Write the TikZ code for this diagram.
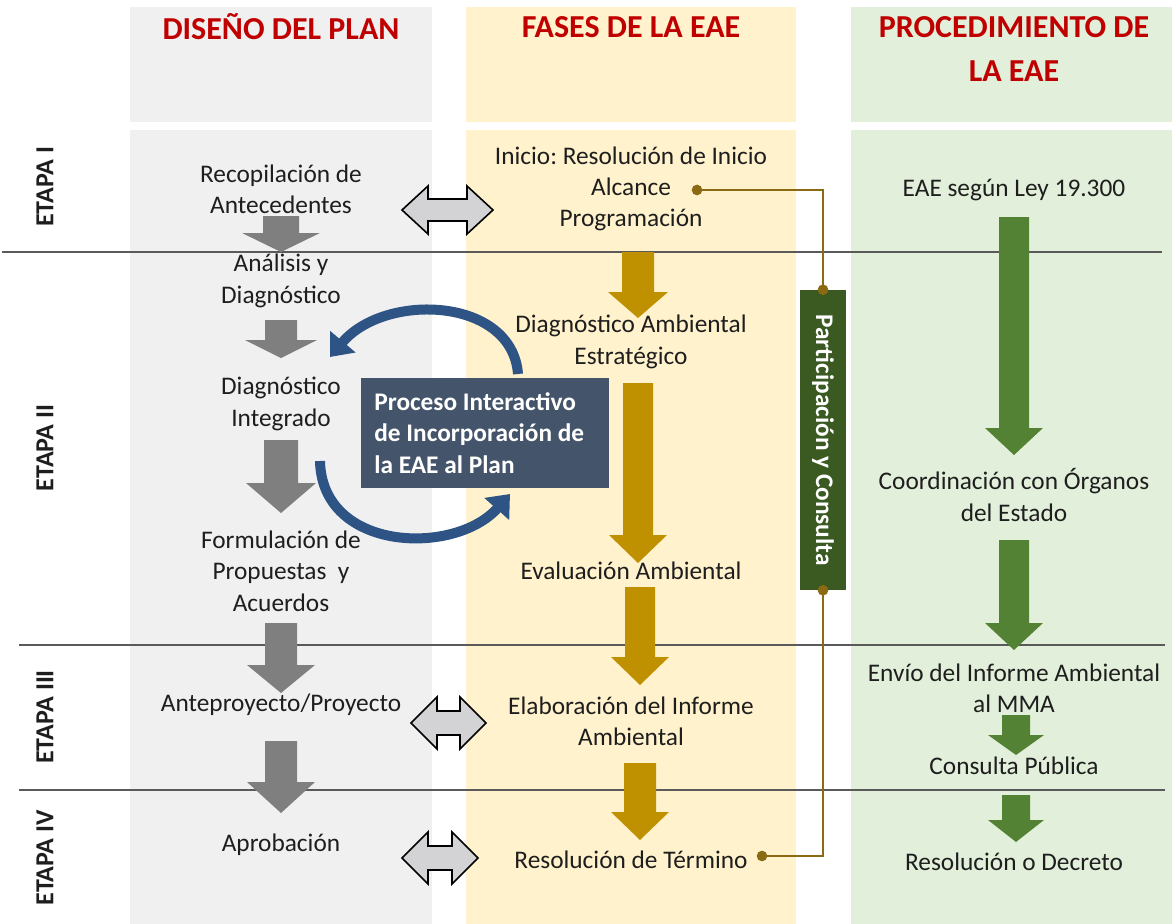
\documentclass[tikz,border=0pt]{standalone}
\usepackage{fontspec}
\setmainfont{Carlito}
\frenchspacing
\usetikzlibrary{arrows.meta}
\definecolor{bggray}{HTML}{F0F0F0}
\definecolor{bgyel}{HTML}{FFF2CC}
\definecolor{bggreen}{HTML}{E2EFDA}
\definecolor{hdred}{HTML}{C00000}
\definecolor{txt}{HTML}{1E1E1E}
\definecolor{arrgray}{HTML}{7F7F7F}
\definecolor{arrgold}{HTML}{BF9000}
\definecolor{arrgreen}{HTML}{548235}
\definecolor{bargreen}{HTML}{3A5A22}
\definecolor{connc}{HTML}{8B6A14}
\definecolor{slate}{HTML}{44546A}
\definecolor{curveblue}{HTML}{2E5486}
\definecolor{dblfill}{HTML}{D3D3D6}
\definecolor{sepline}{HTML}{5A5A5A}
\newcommand{\bdarrow}[7]{%
  \fill[#1] (#2-#6,#3) -- (#2+#6,#3) -- (#2+#6,#4) -- (#2+#7,#4) -- (#2,#5)
    -- (#2-#7,#4) -- (#2-#6,#4) -- cycle;}
% double arrow: xl, xr, yc, half height, shaft half height, head length
\newcommand{\dblarrow}[6]{%
  \filldraw[fill=dblfill,draw=black,line width=1.2pt,line join=miter]
    (#1,#3) -- (#1+#6,#3-#4) -- (#1+#6,#3-#5) -- (#2-#6,#3-#5) -- (#2-#6,#3-#4)
    -- (#2,#3) -- (#2-#6,#3+#4) -- (#2-#6,#3+#5) -- (#1+#6,#3+#5) -- (#1+#6,#3+#4) -- cycle;}
\tikzset{
  body/.style={text=txt,font=\fontsize{19}{23.5}\selectfont\frenchspacing,align=center,inner sep=0pt},
  head/.style={text=hdred,font=\fontsize{24}{33}\selectfont\bfseries,align=center,inner sep=0pt},
  etapa/.style={text=txt,font=\fontsize{19.5}{22}\selectfont\bfseries,rotate=90,inner sep=0pt},
  sep/.style={draw=sepline,line width=1.1pt},
  conn/.style={draw=connc,line width=1.5pt},
  dot/.style={circle,fill=connc,minimum size=8pt,inner sep=0pt},
  curvearr/.style={draw=curveblue,line width=7.5pt,-{Triangle[length=15pt,width=24pt]}},
}
\begin{document}
\begin{tikzpicture}[x=0.75pt,y=-0.75pt]
\useasboundingbox (0,0) rectangle (1172,924);
% backgrounds
\fill[bggray] (130,7) rectangle (432,122);
\fill[bggray] (130,130) rectangle (432,924);
\fill[bgyel] (466,7) rectangle (796,122);
\fill[bgyel] (466,130) rectangle (796,924);
\fill[bggreen] (851,7) rectangle (1172,122);
\fill[bggreen] (851,130) rectangle (1172,924);
% separators
\draw[sep] (2,252) -- (1162,252);
\draw[sep] (19,645) -- (1165,645);
\draw[sep] (19,790) -- (1165,790);
% headers
\node[head] (h1) at (281,27) {DISEÑO DEL PLAN};
\node[head] (h2) at (631,27) {FASES DE LA EAE};
\node[head] (h3) at (1014,49) {PROCEDIMIENTO DE\\LA EAE};
% etapas
\node[etapa] (e1) at (45,187) {ETAPA I};
\node[etapa] (e2) at (45,448) {ETAPA II};
\node[etapa] (e3) at (45,717) {ETAPA III};
\node[etapa] (e4) at (45,858) {ETAPA IV};
% gray arrows
\bdarrow{arrgray}{281}{216}{233}{252}{18}{39}
\bdarrow{arrgray}{281}{320}{340}{358}{16}{36}
\bdarrow{arrgray}{281}{440}{483}{513}{17}{35}
\bdarrow{arrgray}{281}{623}{665}{693}{16}{34}
\bdarrow{arrgray}{281}{741}{782}{813}{16}{34}
% gold arrows
\bdarrow{arrgold}{638}{252}{292}{318}{16}{30}
\bdarrow{arrgold}{638}{383}{535}{563}{15}{29}
\bdarrow{arrgold}{640}{587}{657}{685}{15}{29}
\bdarrow{arrgold}{640}{763}{812}{840}{16}{29}
% green arrows
\bdarrow{arrgreen}{1014}{217}{428}{455}{15}{29}
\bdarrow{arrgreen}{1014}{540}{623}{650}{15}{29}
\bdarrow{arrgreen}{1016}{715}{735}{755}{14}{28}
\bdarrow{arrgreen}{1016}{795}{820}{842}{14}{28}
% double arrows
\dblarrow{402}{493}{210}{24}{11}{26}
\dblarrow{411}{486}{723}{26}{12}{26}
\dblarrow{402}{478}{858}{26}{12}{26}
% left column texts
\node[body] (rec) at (281,189) {Recopilación de\\Antecedentes};
\node[body] (ana) at (281,281) {Análisis y\\Diagnóstico};
\node[body] (dint) at (281,404) {Diagnóstico\\Integrado};
\node[body] (form) at (281,571) {Formulación de\\Propuestas\ \ y\\Acuerdos};
\node[body] (ante) at (281,705) {Anteproyecto/Proyecto};
\node[body] (apro) at (281,845) {Aprobación};
% middle column texts
\node[body] (ini) at (631,189) {Inicio: Resolución de Inicio\\Alcance\\Programación};
\node[body] (dae) at (631,342) {Diagnóstico Ambiental\\Estratégico};
\node[body] (eva) at (631,571) {Evaluación Ambiental};
\node[body] (eia) at (631,721) {Elaboración del Informe\\Ambiental};
\node[body] (rter) at (631,860) {Resolución de Término};
% right column texts
\node[body] (eae) at (1014,190) {EAE según Ley 19.300};
\node[body] (coord) at (1014,495) {Coordinación con Órganos\\del Estado};
\node[body] (envio) at (1014,688) {Envío del Informe Ambiental\\al MMA};
\node[body] (cpub) at (1014,766) {Consulta Pública};
\node[body] (rdec) at (1014,862) {Resolución o Decreto};
% curved arrows
\draw[curvearr] (518,374) .. controls (512,297) and (385,292) .. (330,357);
\draw[curvearr] (320,461) .. controls (322,552) and (455,556) .. (510,494);
% blue box
\node[fill=slate,text=white,font=\fontsize{19}{23.5}\selectfont\bfseries,
      align=flush left,text width=166pt,inner xsep=10pt,inner ysep=0pt,
      minimum height=82.5pt] (proc) at (485,433)
      {Proceso Interactivo\\de Incorporación de\\la EAE al Plan};
% participation bar
\node[fill=bargreen,text=white,font=\fontsize{19}{22}\selectfont\bfseries,
      rotate=-90,minimum width=225pt,minimum height=34.5pt,inner sep=0pt] (part) at (823,440)
      {Participación y Consulta};
% connectors
\node[dot] (alcdot) at (697,190) {};
\node[dot] (rtdot) at (762,856) {};
\draw[conn] (alcdot.center) -| (part.west);
\draw[conn] (part.east) |- (rtdot.center);
\node[dot] (ptop) at (part.west) {};
\node[dot] (pbot) at (part.east) {};
\end{tikzpicture}
\end{document}
